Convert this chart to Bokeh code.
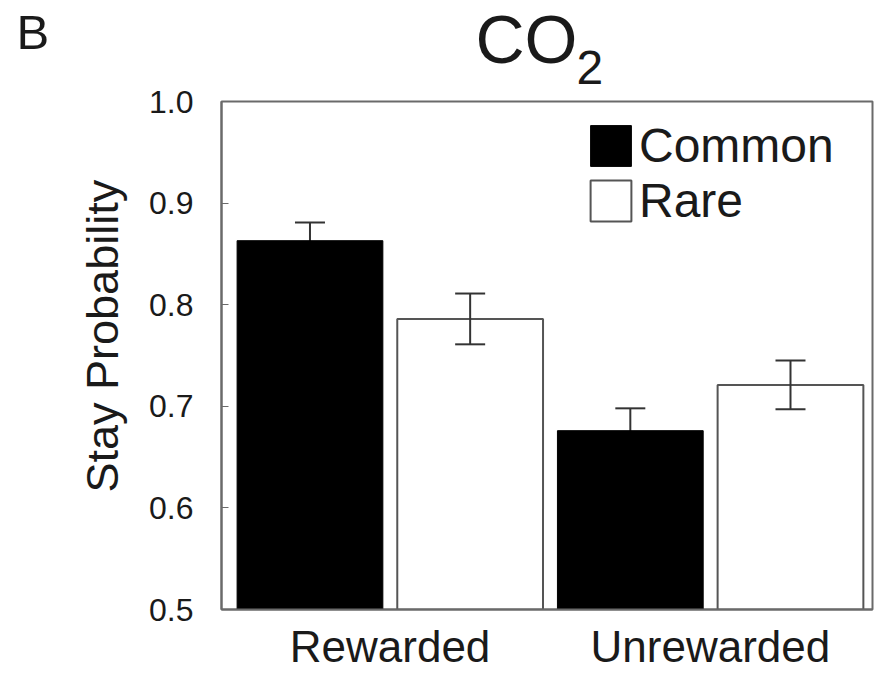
import math
from bokeh.plotting import figure
from bokeh.layouts import column, row
from bokeh.models import (ColumnDataSource, Whisker, TeeHead, Legend, LegendItem,
                          FixedTicker, Range1d)
from bokeh.core.properties import value
from bokeh.embed import file_html
from bokeh.resources import INLINE

# Stay probability after rewarded / unrewarded trials, CO2 condition
groups = ["Rewarded", "Unrewarded"]
common_mean = [0.863, 0.676]
common_err = [0.018, 0.022]
rare_mean = [0.786, 0.721]
rare_err = [0.025, 0.024]
y_ticks = [0.5, 0.6, 0.7, 0.8, 0.9, 1.0]

FONT = "Liberation Sans"
AXIS_GRAY = "#6a6a6a"
TEXT = "#1a1a1a"

HEADER_H = 86
BODY_H = 675 - HEADER_H
TOP_BORDER = 15
BOTTOM_BORDER = 66

# bar positions: each group holds a Common bar followed by a Rare bar
common_x = [2 * g + 1 for g in range(len(groups))]
rare_x = [2 * g + 2 for g in range(len(groups))]
group_x = [(c + r) / 2 for c, r in zip(common_x, rare_x)]

common_src = ColumnDataSource(dict(
    x=common_x, top=common_mean,
    upper=[m + e for m, e in zip(common_mean, common_err)],
    lower=[m - e for m, e in zip(common_mean, common_err)]))
rare_src = ColumnDataSource(dict(
    x=rare_x, top=rare_mean,
    upper=[m + e for m, e in zip(rare_mean, rare_err)],
    lower=[m - e for m, e in zip(rare_mean, rare_err)]))


def blank_panel(w, h, top=0, bottom=0):
    """A figure without axes whose data units are pixels, for free-standing text."""
    f = figure(width=w, height=h, output_backend="svg", toolbar_location=None,
               x_range=Range1d(0, w), y_range=Range1d(0, h - top - bottom),
               x_axis_type=None, y_axis_type=None, min_border=0,
               min_border_top=top, min_border_bottom=bottom)
    f.grid.visible = False
    f.outline_line_color = None
    f.background_fill_color = "white"
    f.border_fill_color = "white"
    return f


def put_text(f, x, y, text, size, angle=0.0, align="left"):
    f.text(x=[x], y=[y], text=[text], angle=angle, text_font=value(FONT),
           text_font_size=value(size), text_color=TEXT,
           text_baseline="alphabetic", text_align=align)


# header: panel letter and the "CO2" title with a lowered subscript
header = blank_panel(875, HEADER_H)
put_text(header, 16, 55, "B", "49px")
put_text(header, 475, 48, "CO", "68px")
put_text(header, 576, 19, "2", "48px")

# left strip carrying the y axis title, sharing the chart's frame height
side = blank_panel(130, BODY_H, top=TOP_BORDER, bottom=BOTTOM_BORDER)
put_text(side, 102, 117, "Stay Probability", "45px", angle=math.pi / 2,
         align="left")

# main bar chart
p = figure(width=745, height=BODY_H, output_backend="svg", toolbar_location=None,
           x_range=Range1d(0.4476, 4.512), y_range=Range1d(0.5, 1.0),
           min_border_left=91, min_border_right=3, min_border_top=TOP_BORDER,
           min_border_bottom=BOTTOM_BORDER)
p.grid.visible = False
p.outline_line_color = AXIS_GRAY
p.outline_line_width = 2
p.background_fill_color = "white"
p.border_fill_color = "white"

bw = 0.91
r_common = p.vbar(x="x", top="top", bottom=0.5, width=bw, source=common_src,
                  fill_color="black", line_color="black", line_width=1)
r_rare = p.vbar(x="x", top="top", bottom=0.5, width=bw, source=rare_src,
                fill_color="white", line_color="#555555", line_width=2)

# error bars: behind the black bars, in front of the white ones
for src, lvl in ((common_src, "underlay"), (rare_src, "overlay")):
    w = Whisker(source=src, base="x", upper="upper", lower="lower",
                line_color="#333333", line_width=2, level=lvl,
                upper_head=TeeHead(size=30, line_color="#333333", line_width=2),
                lower_head=TeeHead(size=30, line_color="#333333", line_width=2))
    p.add_layout(w)

ya = p.yaxis[0]
ya.ticker = FixedTicker(ticks=y_ticks)
ya.major_label_overrides = {t: f"{t:.1f}" for t in y_ticks}
ya.major_label_text_font = FONT
ya.major_label_text_font_size = "32px"
ya.major_label_text_color = TEXT
ya.major_label_standoff = 28
ya.major_tick_in = 7
ya.major_tick_out = 0
ya.major_tick_line_color = AXIS_GRAY
ya.minor_tick_line_color = None
ya.axis_line_color = AXIS_GRAY
ya.axis_line_width = 2

xa = p.xaxis[0]
xa.ticker = FixedTicker(ticks=group_x)
xa.major_label_overrides = {gx: name for gx, name in zip(group_x, groups)}
xa.major_label_text_font = FONT
xa.major_label_text_font_size = "44px"
xa.major_label_text_color = TEXT
xa.major_label_standoff = 12
xa.major_tick_in = 0
xa.major_tick_out = 0
xa.minor_tick_line_color = None
xa.axis_line_color = AXIS_GRAY
xa.axis_line_width = 2

legend = Legend(items=[LegendItem(label="Common", renderers=[r_common]),
                       LegendItem(label="Rare", renderers=[r_rare])],
                location=(364, 381), glyph_width=51, glyph_height=51,
                label_text_font=FONT, label_text_font_size="48px",
                label_text_color=TEXT, label_standoff=3, spacing=0,
                padding=0, margin=0, border_line_alpha=0,
                background_fill_alpha=0, label_height=51)
p.add_layout(legend)

layout = column(header, row(side, p, spacing=0), spacing=0)

open("out.html", "w").write(file_html(layout, INLINE))
